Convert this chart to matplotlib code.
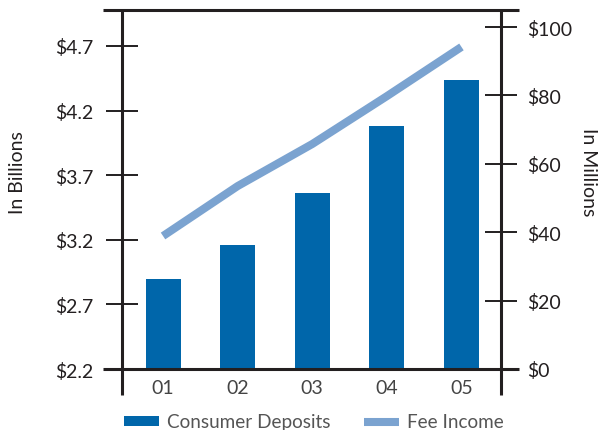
import matplotlib
matplotlib.use("Agg")
from matplotlib import pyplot as plt
from matplotlib.lines import Line2D

years = ["01", "02", "03", "04", "05"]
deposits = [2.90, 3.16, 3.56, 4.08, 4.44]      # billions
fee_income = [38.9, 53.5, 65.8, 79.8, 94.2]    # millions
left_ticks = [2.2, 2.7, 3.2, 3.7, 4.2, 4.7]
right_ticks = [0, 20, 40, 60, 80, 100]

dark = "#231f20"
bar_col = "#0066aa"
line_col = "#7ba3d0"

plt.rcParams['font.family'] = ['Lato', 'DejaVu Sans']

fig = plt.figure(figsize=(6.06, 4.31), dpi=100)
ax = fig.add_axes([122/606, 61/431, 379/606, 359/431])
ax2 = ax.twinx()

x = list(range(1, len(years) + 1))
bars = ax.bar(x, deposits, width=0.47, color=bar_col, bottom=0, zorder=2,
              label="Consumer Deposits")
ln, = ax2.plot(x, fee_income, color=line_col, lw=5.8, solid_capstyle='butt',
               label="Fee Income")

ax.set_xlim(0.45, 5.53)
ax.set_ylim(2.2, 4.978)
ax2.set_ylim(0, 105)

ax.set_xticks(x)
ax.set_xticklabels(years)
ax.set_yticks(left_ticks)
ax.set_yticklabels([f"${v:.1f}" for v in left_ticks])
ax2.set_yticks(right_ticks)
ax2.set_yticklabels([f"${v}" for v in right_ticks])

for a in (ax, ax2):
    for s in a.spines.values():
        s.set_visible(False)
ax.tick_params(axis='x', length=0, pad=7, labelsize=14, labelcolor="#444444")
ax.tick_params(axis='y', direction='inout', length=23, width=1.4, color=dark,
               pad=9, labelsize=14, labelcolor=dark)
ax2.tick_params(axis='y', direction='inout', length=23, width=1.4, color=dark,
                pad=7, labelsize=14, labelcolor=dark)

ax.set_ylabel("In Billions", fontsize=14, color=dark, labelpad=21, y=0.55)
ax2.set_ylabel("In Millions", fontsize=14, color=dark, rotation=270,
               labelpad=18, y=0.55)

# frame lines that reach past the plot area
def fline(x0, y0, x1, y1):
    fig.add_artist(Line2D([x0/606, x1/606], [1 - y0/431, 1 - y1/431],
                          color=dark, lw=2.2, solid_capstyle='butt'))

fline(103, 11, 519, 11)
fline(103, 370, 519, 370)
fline(122, 10, 122, 396)
fline(501, 10, 501, 396)

leg = fig.legend([bars, ln], ["Consumer Deposits", "Fee Income"], loc='center',
                 bbox_to_anchor=(314/606, 8/431), ncol=2, frameon=False,
                 fontsize=13.6, handlelength=1.85, handleheight=0.45,
                 handletextpad=0.4, columnspacing=1.8, borderpad=0)
for t in leg.get_texts():
    t.set_color("#555555")

fig.savefig("out.png", dpi=100)
